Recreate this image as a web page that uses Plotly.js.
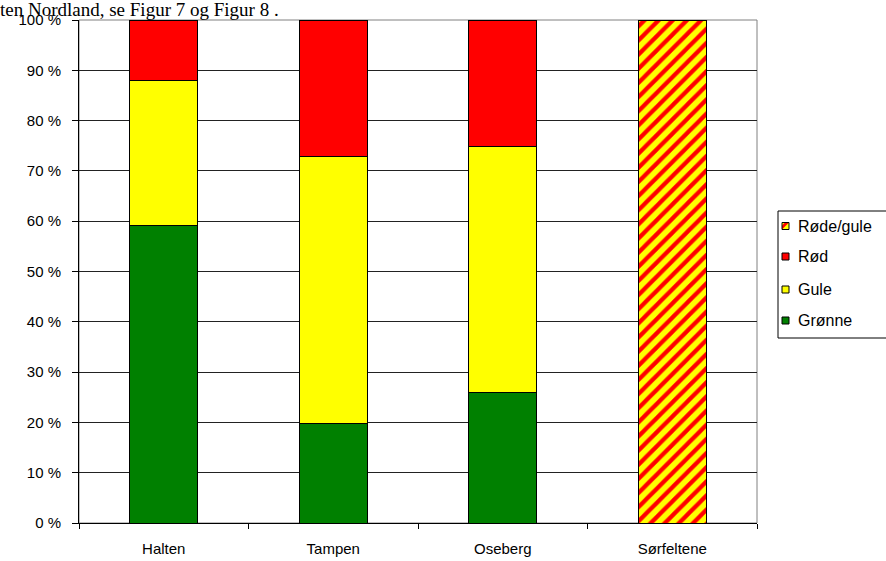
<!DOCTYPE html>
<html>
<head>
<meta charset="utf-8">
<script src="https://cdn.plot.ly/plotly-3.0.1.min.js"></script>
<style>html,body{margin:0;padding:0;background:#fff;}#chart{width:886px;height:561px;}</style>
</head>
<body>
<div id="chart"></div>
<script>
// ---- data ----
const categories = ['Halten', 'Tampen', 'Oseberg', 'Sørfeltene'];
const gronne   = [59.1, 19.7, 26.0, null];
const gule     = [28.8, 53.2, 48.8, null];
const rod      = [12.1, 27.1, 25.2, null];
const rodeGule = [null, null, null, 100];
const seriesNames = ['Grønne', 'Gule', 'Rød', 'Røde/gule'];
const seriesColors = ['#008000', '#FFFF00', '#FF0000', '#FFFF00'];
const yTickVals = [0, 10, 20, 30, 40, 50, 60, 70, 80, 90, 100];
const yTickText = ['0 %', '10 %', '20 %', '30 %', '40 %', '50 %', '60 %', '70 %', '80 %', '90 %', '100 %'];
const headerText = 'ten Nordland, se Figur 7 og Figur 8 .';

// ---- layout helpers ----
const W = 886, H = 561;
const M = {l: 79, r: 129, t: 20, b: 38};
const PW = W - M.l - M.r, PH = H - M.t - M.b;
const px = X => (X - M.l) / PW;
const py = Y => (H - M.b - Y) / PH;
const FONT = 'Liberation Sans, Arial, sans-serif';
const FS = 15;

const values = [gronne, gule, rod, rodeGule];
const traces = values.map((v, i) => {
  const t = {
    type: 'bar', x: categories, y: v, name: seriesNames[i],
    width: 0.4,
    marker: {color: seriesColors[i], line: {color: '#000', width: 1}},
    showlegend: false, hoverinfo: 'skip'
  };
  if (i === 3) {
    t.marker.pattern = {shape: '/', fgcolor: '#FF0000', bgcolor: '#FFFF00', size: 10, solidity: 0.42, fillmode: 'replace'};
  }
  return t;
});

// ---- manual legend (top item first) ----
const shapes = [
  {type: 'rect', xref: 'paper', yref: 'paper', x0: 0, x1: 1, y0: 0, y1: 1,
   line: {color: '#808080', width: 1}, layer: 'below'},
  {type: 'rect', xref: 'paper', yref: 'paper', x0: px(778), x1: px(900), y0: py(338), y1: py(211),
   line: {color: '#000', width: 1}, fillcolor: '#fff'}
];
const annotations = [
  {xref: 'paper', yref: 'paper', x: px(-2), y: py(9), xanchor: 'left', yanchor: 'middle',
   text: headerText, showarrow: false, font: {family: 'Liberation Serif, Times New Roman, serif', size: 19, color: '#000'}}
];
const legendOrder = [3, 2, 1, 0];
const legendY = [226, 256.5, 289.5, 320.5];
legendOrder.forEach((si, k) => {
  const cy = legendY[k], a = 782, b = cy - 3.5, s = 7;
  shapes.push({type: 'rect', xref: 'paper', yref: 'paper', x0: px(a), x1: px(a + s), y0: py(b + s), y1: py(b),
    fillcolor: seriesColors[si], line: {width: 0}});
  if (si === 3) {
    const pts = [[3, 0], [7, 0], [0, 7], [0, 3]].map(p => [px(a + p[0] * s / 7), py(b + p[1] * s / 7)]);
    shapes.push({type: 'path', xref: 'paper', yref: 'paper',
      path: 'M' + pts.map(p => p[0] + ',' + p[1]).join(' L') + ' Z',
      fillcolor: '#FF0000', line: {width: 0}});
  }
  shapes.push({type: 'rect', xref: 'paper', yref: 'paper', x0: px(a), x1: px(a + s), y0: py(b + s), y1: py(b),
    line: {color: '#000', width: 1}});
  annotations.push({xref: 'paper', yref: 'paper', x: px(796), y: py(cy), xanchor: 'left', yanchor: 'middle',
    text: seriesNames[si], showarrow: false, font: {family: FONT, size: 16, color: '#000'}});
});

const layout = {
  width: W, height: H,
  margin: M,
  paper_bgcolor: '#fff', plot_bgcolor: '#fff',
  barmode: 'stack',
  font: {family: FONT, size: FS, color: '#000'},
  showlegend: false,
  xaxis: {
    type: 'category', showgrid: false, showline: true, linecolor: '#000', linewidth: 1,
    ticks: 'outside', tickson: 'boundaries', ticklen: 5, tickcolor: '#000',
    ticklabelstandoff: 12, tickfont: {family: FONT, size: FS, color: '#000'}, zeroline: false
  },
  yaxis: {
    range: [0, 100], tickvals: yTickVals, ticktext: yTickText,
    showgrid: true, gridcolor: '#222', gridwidth: 1,
    showline: true, linecolor: '#000', linewidth: 1,
    ticks: 'outside', ticklen: 6, tickcolor: '#000', ticklabelstandoff: 8,
    tickfont: {family: FONT, size: FS, color: '#000'}, zeroline: false
  },
  shapes: shapes,
  annotations: annotations
};

Plotly.newPlot('chart', traces, layout, {staticPlot: true, displayModeBar: false});
</script>
</body>
</html>
